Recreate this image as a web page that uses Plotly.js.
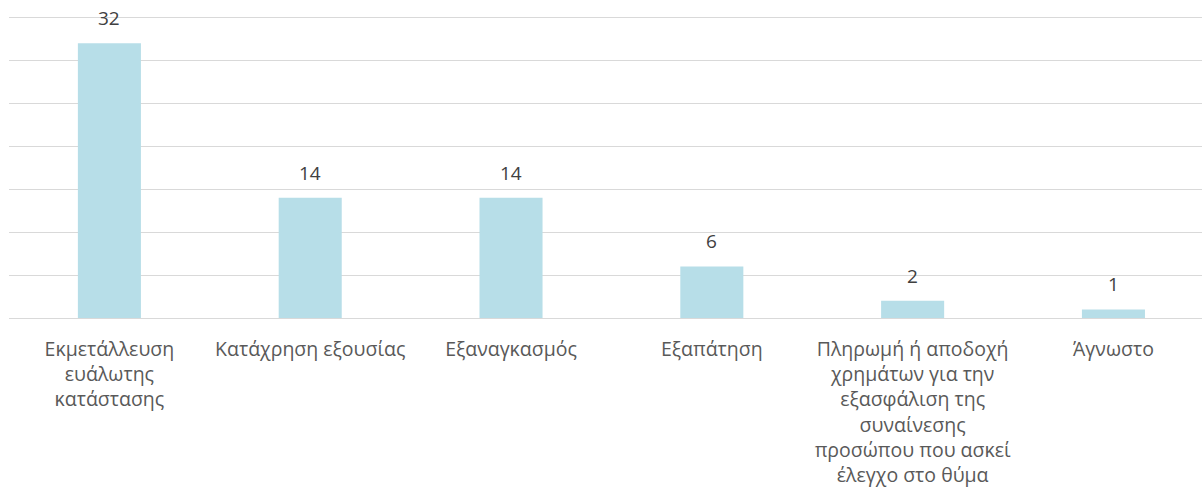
<!DOCTYPE html>
<html>
<head>
<meta charset="utf-8">
<script src="https://cdn.plot.ly/plotly-3.0.1.min.js"></script>
<style>html,body{margin:0;padding:0;background:#fff;}#chart{width:1202px;height:498px;}</style>
</head>
<body>
<div id="chart"></div>
<script>
const categories = [
  "Εκμετάλλευση<br>ευάλωτης<br>κατάστασης",
  "Κατάχρηση εξουσίας",
  "Εξαναγκασμός",
  "Εξαπάτηση",
  "Πληρωμή ή αποδοχή<br>χρημάτων για την<br>εξασφάλιση της<br>συναίνεσης<br>προσώπου που ασκεί<br>έλεγχο στο θύμα",
  "Άγνωστο"
];
const values = [32, 14, 14, 6, 2, 1];

const FONT = "Open Sans, Noto Sans, sans-serif";

const trace = {
  type: "bar",
  x: categories.map((_, i) => i),
  y: values,
  width: 0.314,
  marker: {color: "#b7dee8"},
  hoverinfo: "none"
};

const annotations = values.map((v, i) => ({
  x: i, y: v, xref: "x", yref: "y",
  text: String(v),
  showarrow: false,
  yanchor: "middle",
  yshift: 25,
  font: {family: FONT, size: 19, color: "#404040"}
}));

const layout = {
  width: 1202, height: 498,
  margin: {l: 9, r: 0, t: 13.56, b: 180},
  paper_bgcolor: "#ffffff",
  plot_bgcolor: "#ffffff",
  showlegend: false,
  xaxis: {
    range: [-0.5, 5.441],
    tickmode: "array",
    tickvals: categories.map((_, i) => i),
    ticktext: categories,
    showgrid: false,
    zeroline: false,
    showline: false,
    ticks: "",
    ticklabelstandoff: 17,
    tickfont: {family: FONT, size: 19.5, color: "#595959"},
    fixedrange: true
  },
  yaxis: {
    range: [0, 35.4],
    tickmode: "linear",
    tick0: 0,
    dtick: 5,
    showticklabels: false,
    showgrid: true,
    gridcolor: "#d9d9d9",
    gridwidth: 1,
    zeroline: true,
    zerolinecolor: "#d9d9d9",
    zerolinewidth: 1,
    showline: false,
    ticks: "",
    fixedrange: true
  },
  annotations: annotations
};

Plotly.newPlot("chart", [trace], layout, {staticPlot: true, displayModeBar: false});
</script>
</body>
</html>
